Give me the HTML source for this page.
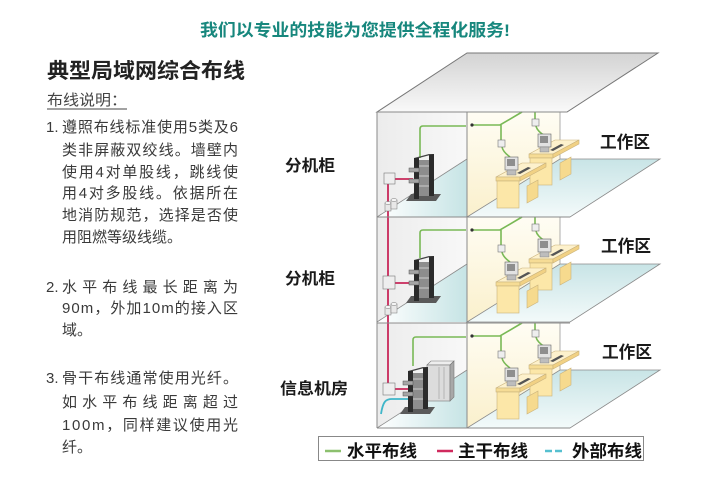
<!DOCTYPE html>
<html><head><meta charset="utf-8"><style>
html,body{margin:0;padding:0;background:#fff;}
svg{display:block;}
text{font-family:"Liberation Sans","Noto Sans CJK SC",sans-serif;}
</style></head><body>
<svg width="721" height="479" viewBox="0 0 721 479" xmlns="http://www.w3.org/2000/svg">
<defs>
<linearGradient id="gTop" x1="0" y1="0" x2="0" y2="1"><stop offset="0" stop-color="#d3d3d3"/><stop offset="1" stop-color="#f9f9f9"/></linearGradient>
<linearGradient id="gLwall" x1="0" y1="0" x2="1" y2="0"><stop offset="0" stop-color="#ececec"/><stop offset="1" stop-color="#f8f8f8"/></linearGradient>
<linearGradient id="gLfloor" x1="0" y1="0" x2="1" y2="0"><stop offset="0" stop-color="#ffffff"/><stop offset="1" stop-color="#c6e4e5"/></linearGradient>
<linearGradient id="gRwall" x1="0" y1="0" x2="0" y2="1"><stop offset="0" stop-color="#fffdf4"/><stop offset="1" stop-color="#faf0cc"/></linearGradient>
<linearGradient id="gFloor" x1="0" y1="0" x2="0" y2="1"><stop offset="0" stop-color="#c8e4e6"/><stop offset="1" stop-color="#f3fafa"/></linearGradient>
<g id="desk">
 <polygon points="496,177 520,177 546,163 522,163" fill="#fdf1cc" stroke="#c9b27c" stroke-width=".6"/>
 <rect x="496" y="177" width="24" height="4" fill="#f6dc95" stroke="#c9b27c" stroke-width=".6"/>
 <rect x="497" y="181" width="22" height="27" fill="#fce7a8" stroke="#c9b27c" stroke-width=".6"/>
 <polygon points="520,177 546,163 546,167 520,181" fill="#f1d184" stroke="#c9b27c" stroke-width=".6"/>
 <polygon points="527,186 538,180 538,197 527,203" fill="#f6da8e" stroke="#c9b27c" stroke-width=".6"/>
 <rect x="505" y="157" width="13" height="13" fill="#e2e2e2" stroke="#666" stroke-width=".6"/>
 <rect x="507" y="159" width="8" height="7" fill="#8e8e8e"/>
 <rect x="507" y="170" width="9" height="5" fill="#bdbdbd" stroke="#777" stroke-width=".4"/>
 <polygon points="517,173 528,167 531,168 520,174" fill="#555"/>
</g>
<g id="rack">
 <polygon points="406,201 436,201 441,194 411,194" fill="#5a5a5a"/>
 <rect x="418" y="160" width="12" height="36" fill="#8d8d8d"/>
 <line x1="418" y1="166" x2="430" y2="166" stroke="#ccc" stroke-width="1"/>
 <line x1="418" y1="176" x2="430" y2="176" stroke="#ccc" stroke-width="1"/>
 <line x1="418" y1="186" x2="430" y2="186" stroke="#ccc" stroke-width="1"/>
 <rect x="414" y="158" width="5" height="41" fill="#2b2b2b"/>
 <rect x="429" y="154" width="5" height="42" fill="#2b2b2b"/>
 <polygon points="414,158 429,154 434,154 419,158" fill="#444"/>
 <rect x="409" y="168" width="10" height="4" fill="#a5a5a5" stroke="#555" stroke-width=".5"/>
 <rect x="409" y="179" width="10" height="4" fill="#a5a5a5" stroke="#555" stroke-width=".5"/>
</g>
<g id="cyl">
 <rect x="385" y="203" width="6" height="8" fill="#e8e8e8" stroke="#777" stroke-width=".5"/>
 <ellipse cx="388" cy="203" rx="3" ry="1.5" fill="#f5f5f5" stroke="#777" stroke-width=".5"/>
 <rect x="391" y="200" width="6" height="9" fill="#e8e8e8" stroke="#777" stroke-width=".5"/>
 <ellipse cx="394" cy="200" rx="3" ry="1.5" fill="#f5f5f5" stroke="#777" stroke-width=".5"/>
</g>
<g id="floor">
 <rect x="377" y="112" width="90" height="105" fill="url(#gLwall)"/>
 <polygon points="467,159 467,217 377,217" fill="url(#gLfloor)"/>
 <line x1="467" y1="159" x2="377" y2="217" stroke="#8a8a8a" stroke-width=".8"/>
 <polygon points="467,112 560,112 560,159 467,217" fill="url(#gRwall)"/>
 <polygon points="467,217 570,217 660,159 560,159" fill="url(#gFloor)" stroke="#8a8a8a" stroke-width=".8"/>
 <line x1="560" y1="112" x2="560" y2="159" stroke="#999" stroke-width=".8"/>
 <path d="M472,125 H500 L522,112 M501,125 V140 M502,147 Q503,152 510,157 M535,112 V119 M536,126 Q537,131 545,136" fill="none" stroke="#79b956" stroke-width="1.6"/>
 <circle cx="472" cy="125" r="1.6" fill="#333"/>
 <rect x="498" y="140" width="7" height="7" fill="#eee" stroke="#777" stroke-width=".6"/>
 <rect x="532" y="119" width="7" height="7" fill="#eee" stroke="#777" stroke-width=".6"/>
 <use href="#desk" transform="translate(33,-23)"/>
 <use href="#desk"/>
</g>
</defs>

<!-- title texts -->
<text x="200" y="36" font-size="17" font-weight="bold" fill="#17877d" textLength="310" lengthAdjust="spacingAndGlyphs">我们以专业的技能为您提供全程化服务!</text>
<text x="47" y="78" font-size="21" font-weight="bold" fill="#222" textLength="198" lengthAdjust="spacingAndGlyphs">典型局域网综合布线</text>
<text x="47" y="105" font-size="15" fill="#444" textLength="80" lengthAdjust="spacingAndGlyphs">布线说明：</text>
<line x1="47" y1="109" x2="127" y2="109" stroke="#444" stroke-width="1"/>

<g font-size="15" fill="#3a3a3a">
<text x="46" y="132">1.</text>
<text x="62" y="132" textLength="176" lengthAdjust="spacing">遵照布线标准使用5类及6</text>
<text x="62" y="155" textLength="176" lengthAdjust="spacing">类非屏蔽双绞线。墙壁内</text>
<text x="62" y="177" textLength="176" lengthAdjust="spacing">使用4对单股线，跳线使</text>
<text x="62" y="198" textLength="176" lengthAdjust="spacing">用4对多股线。依据所在</text>
<text x="62" y="220" textLength="176" lengthAdjust="spacing">地消防规范，选择是否使</text>
<text x="62" y="242" textLength="120" lengthAdjust="spacing">用阻燃等级线缆。</text>
<text x="46" y="292">2.</text>
<text x="62" y="292" textLength="176" lengthAdjust="spacing">水平布线最长距离为</text>
<text x="62" y="313" textLength="176" lengthAdjust="spacing">90m，外加10m的接入区</text>
<text x="62" y="335">域。</text>
<text x="46" y="383">3.</text>
<text x="62" y="383" textLength="176" lengthAdjust="spacing">骨干布线通常使用光纤。</text>
<text x="62" y="407" textLength="176" lengthAdjust="spacing">如水平布线距离超过</text>
<text x="62" y="430" textLength="176" lengthAdjust="spacing">100m，同样建议使用光</text>
<text x="62" y="452">纤。</text>
</g>

<g font-size="16" font-weight="bold" fill="#1a1a1a">
<text x="285" y="171" textLength="50" lengthAdjust="spacingAndGlyphs">分机柜</text>
<text x="285" y="284" textLength="50" lengthAdjust="spacingAndGlyphs">分机柜</text>
<text x="280" y="394" textLength="68" lengthAdjust="spacingAndGlyphs">信息机房</text>
</g>

<!-- building -->
<polygon points="467,53 658,53 567,112 377,112" fill="url(#gTop)" stroke="#777" stroke-width="1"/>
<use href="#floor"/>
<use href="#floor" transform="translate(0,105)"/>
<use href="#floor" transform="translate(0,211)"/>

<!-- left room contents -->
<path d="M420,158 V129 Q420,126 423,126 H466" fill="none" stroke="#79b956" stroke-width="1.6"/>
<path d="M420,258 V233 Q420,230 423,230 H466" fill="none" stroke="#79b956" stroke-width="1.6"/>
<path d="M413,366 V340 Q413,337 416,337 H466" fill="none" stroke="#79b956" stroke-width="1.6"/>

<path d="M388,184 V384 M395,179 H413 M395,283 H414 M395,389 H408" fill="none" stroke="#c8285a" stroke-width="1.8"/>
<path d="M381,414 C383,401 386,399 392,399 H408" fill="none" stroke="#3fb6c9" stroke-width="1.8"/>

<use href="#rack"/>
<use href="#rack" transform="translate(0,102)"/>
<!-- server -->
<polygon points="427,365 450,365 454,361 431,361" fill="#eee" stroke="#777" stroke-width=".6"/>
<rect x="427" y="365" width="23" height="36" fill="#dcdcdc" stroke="#777" stroke-width=".6"/>
<polygon points="450,365 454,361 454,397 450,401" fill="#a8a8a8" stroke="#777" stroke-width=".6"/>
<line x1="439" y1="367" x2="439" y2="399" stroke="#999" stroke-width=".6"/>
<line x1="444" y1="367" x2="444" y2="399" stroke="#999" stroke-width=".6"/>
<use href="#rack" transform="translate(-6,213)"/>

<rect x="384" y="173" width="11" height="11" fill="#eee" stroke="#777" stroke-width=".6"/>
<rect x="383" y="276" width="12" height="13" fill="#eee" stroke="#777" stroke-width=".6"/>
<rect x="383" y="383" width="12" height="12" fill="#eee" stroke="#777" stroke-width=".6"/>
<use href="#cyl"/>
<use href="#cyl" transform="translate(0,104)"/>

<!-- frame lines -->
<g stroke="#8a8a8a" stroke-width="1" fill="none">
<line x1="377" y1="112" x2="377" y2="428"/>
<line x1="467" y1="112" x2="467" y2="428"/>
<line x1="377" y1="112" x2="567" y2="112"/>
<line x1="377" y1="217" x2="570" y2="217"/>
<line x1="377" y1="323" x2="570" y2="323"/>
<line x1="377" y1="428" x2="570" y2="428"/>
</g>

<g font-size="17" font-weight="bold" fill="#1a1a1a">
<text x="600" y="148" textLength="50" lengthAdjust="spacingAndGlyphs">工作区</text>
<text x="601" y="252" textLength="50" lengthAdjust="spacingAndGlyphs">工作区</text>
<text x="602" y="358" textLength="50" lengthAdjust="spacingAndGlyphs">工作区</text>
</g>

<!-- legend -->
<rect x="318.5" y="436.5" width="325" height="24" fill="#fff" stroke="#888" stroke-width="1"/>
<line x1="325" y1="451" x2="341" y2="451" stroke="#8cc06e" stroke-width="2.5"/>
<line x1="437" y1="451" x2="453" y2="451" stroke="#d02a5e" stroke-width="2.5"/>
<line x1="545" y1="451" x2="552" y2="451" stroke="#56c0d0" stroke-width="2.5"/>
<line x1="555" y1="451" x2="562" y2="451" stroke="#56c0d0" stroke-width="2.5"/>
<g font-size="17" font-weight="bold" fill="#111">
<text x="347" y="457" textLength="70" lengthAdjust="spacingAndGlyphs">水平布线</text>
<text x="458" y="457" textLength="70" lengthAdjust="spacingAndGlyphs">主干布线</text>
<text x="572" y="457" textLength="70" lengthAdjust="spacingAndGlyphs">外部布线</text>
</g>
</svg>
</body></html>
